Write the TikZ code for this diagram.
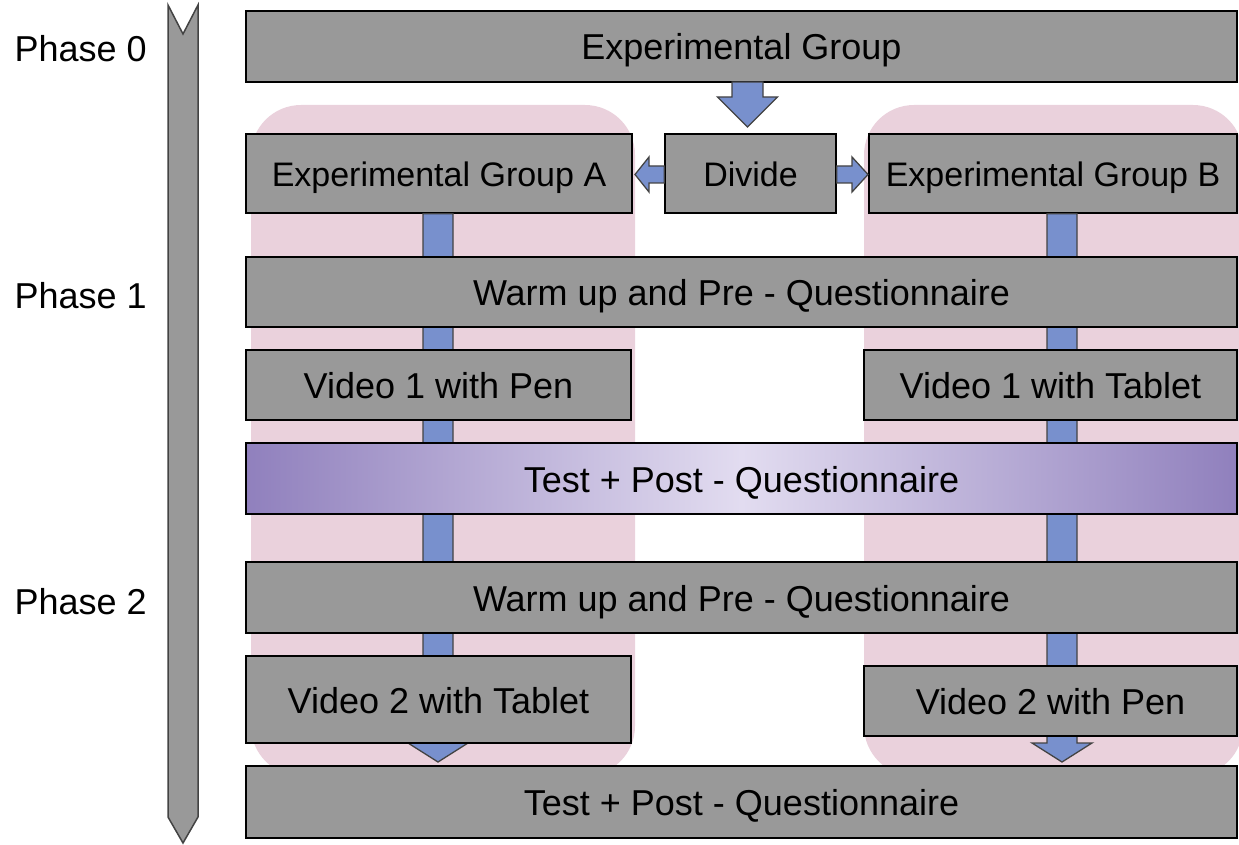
\documentclass[tikz,border=0pt]{standalone}
\usepackage{fontspec}
\setmainfont{Liberation Sans}
\usetikzlibrary{calc}

\definecolor{boxgray}{HTML}{999999}
\definecolor{edgegray}{HTML}{434343}
\definecolor{lanepink}{HTML}{EAD1DC}
\definecolor{flowblue}{HTML}{7890CD}
\definecolor{gradedge}{HTML}{9080BD}
\definecolor{gradmid}{HTML}{E2DCF0}

\tikzset{
  box/.style={draw=black, line width=1.5pt, fill=boxgray, inner sep=0pt,
              text height=27pt, text depth=0pt,
              font=\fontsize{36}{42}\selectfont, text=black},
  smallbox/.style={box, text height=25.5pt, font=\fontsize{34}{40}\selectfont},
  lane/.style={fill=lanepink, rounded corners=50pt},
  blk/.style={fill=flowblue, draw=edgegray, line width=1.3pt, line join=miter},
  timeline/.style={fill=boxgray, draw=edgegray, line width=1.5pt},
  phase/.style={anchor=east, inner sep=0pt, text height=27pt, text depth=0pt,
                font=\fontsize{36}{42}\selectfont}
}

\begin{document}
\begin{tikzpicture}[x=1pt, y=-1pt]
\useasboundingbox (0,0) rectangle (1239,845);

% background lanes for the two groups
\fill[lane] (251,105) rectangle (635,776);
\fill[lane] (864,105) rectangle (1243,776);

% anchor points for the flow arrows
\coordinate (topS) at (747.5,82);
\coordinate (topT) at (747.5,127);
\coordinate (tipA) at (438,762);
\coordinate (tipB) at (1062,762);
\coordinate (tipL) at (635,174.5);
\coordinate (tipR) at (868,174.5);

% the two group boxes start the vertical flow bars
\node[smallbox, minimum width=386pt, minimum height=79pt] (grpA) at (439,173.5) {Experimental Group A};
\node[smallbox, minimum width=368pt, minimum height=79pt] (grpB) at (1053,173.5) {Experimental Group B};

% vertical flow bars with arrow heads (partly hidden behind the boxes)
\draw[blk] ($(tipA|-grpA.south)+(-15,0)$) -- ($(tipA|-grpA.south)+(15,0)$)
  -- ($(tipA)+(15,-19)$) -- ($(tipA)+(30,-19)$) -- (tipA)
  -- ($(tipA)+(-30,-19)$) -- ($(tipA)+(-15,-19)$) -- cycle;
\draw[blk] ($(tipB|-grpB.south)+(-15,0)$) -- ($(tipB|-grpB.south)+(15,0)$)
  -- ($(tipB)+(15,-19)$) -- ($(tipB)+(30,-19)$) -- (tipB)
  -- ($(tipB)+(-30,-19)$) -- ($(tipB)+(-15,-19)$) -- cycle;

% phase timeline
\draw[timeline] (168,5) -- (183,34) -- (198,5) -- (198,817) -- (183,843) -- (168,817) -- cycle;

% process boxes
\node[box, minimum width=991pt, minimum height=71pt] (eg) at (741.5,46.5) {Experimental Group};
\node[smallbox, minimum width=171pt, minimum height=79pt] (div) at (750.5,173.5) {Divide};
\node[box, minimum width=991pt, minimum height=70pt] (warm1) at (741.5,292) {Warm up and Pre - Questionnaire};
\node[box, minimum width=385pt, minimum height=70pt] (v1pen) at (438.5,385) {Video 1 with Pen};
\node[box, minimum width=373pt, minimum height=70pt] (v1tab) at (1050.5,385) {Video 1 with Tablet};
\node[box, minimum width=991pt, minimum height=71pt, left color=gradedge, right color=gradedge, middle color=gradmid] (test1) at (741.5,478.5) {Test + Post - Questionnaire};
\node[box, minimum width=991pt, minimum height=71pt] (warm2) at (741.5,597.5) {Warm up and Pre - Questionnaire};
\node[box, minimum width=385pt, minimum height=87pt] (v2tab) at (438.5,699.5) {Video 2 with Tablet};
\node[box, minimum width=373pt, minimum height=70pt] (v2pen) at (1050.5,701) {Video 2 with Pen};
\node[box, minimum width=991pt, minimum height=72pt] (test2) at (741.5,802) {Test + Post - Questionnaire};

% split arrow from the whole group down to the divide step
\draw[blk] ($(topS)+(-15.5,0)$) -- ($(topS)+(15.5,0)$) -- ($(topT)+(15.5,-30)$)
  -- ($(topT)+(30,-30)$) -- (topT) -- ($(topT)+(-30,-30)$) -- ($(topT)+(-15.5,-30)$) -- cycle;

% divide to group A (left) and group B (right)
\draw[blk] ($(div.west|-tipL)+(0,-8.5)$) -- ($(tipL)+(14,-8.5)$) -- ($(tipL)+(14,-17.5)$)
  -- (tipL) -- ($(tipL)+(14,17.5)$) -- ($(tipL)+(14,8.5)$) -- ($(div.west|-tipL)+(0,8.5)$) -- cycle;
\draw[blk] ($(div.east|-tipR)+(0,-8.5)$) -- ($(tipR)+(-16,-8.5)$) -- ($(tipR)+(-16,-17.5)$)
  -- (tipR) -- ($(tipR)+(-16,17.5)$) -- ($(tipR)+(-16,8.5)$) -- ($(div.east|-tipR)+(0,8.5)$) -- cycle;

% phase labels
\node[phase] (ph0) at (147,48) {Phase 0};
\node[phase] (ph1) at (147,295) {Phase 1};
\node[phase] (ph2) at (147,601) {Phase 2};
\end{tikzpicture}
\end{document}
